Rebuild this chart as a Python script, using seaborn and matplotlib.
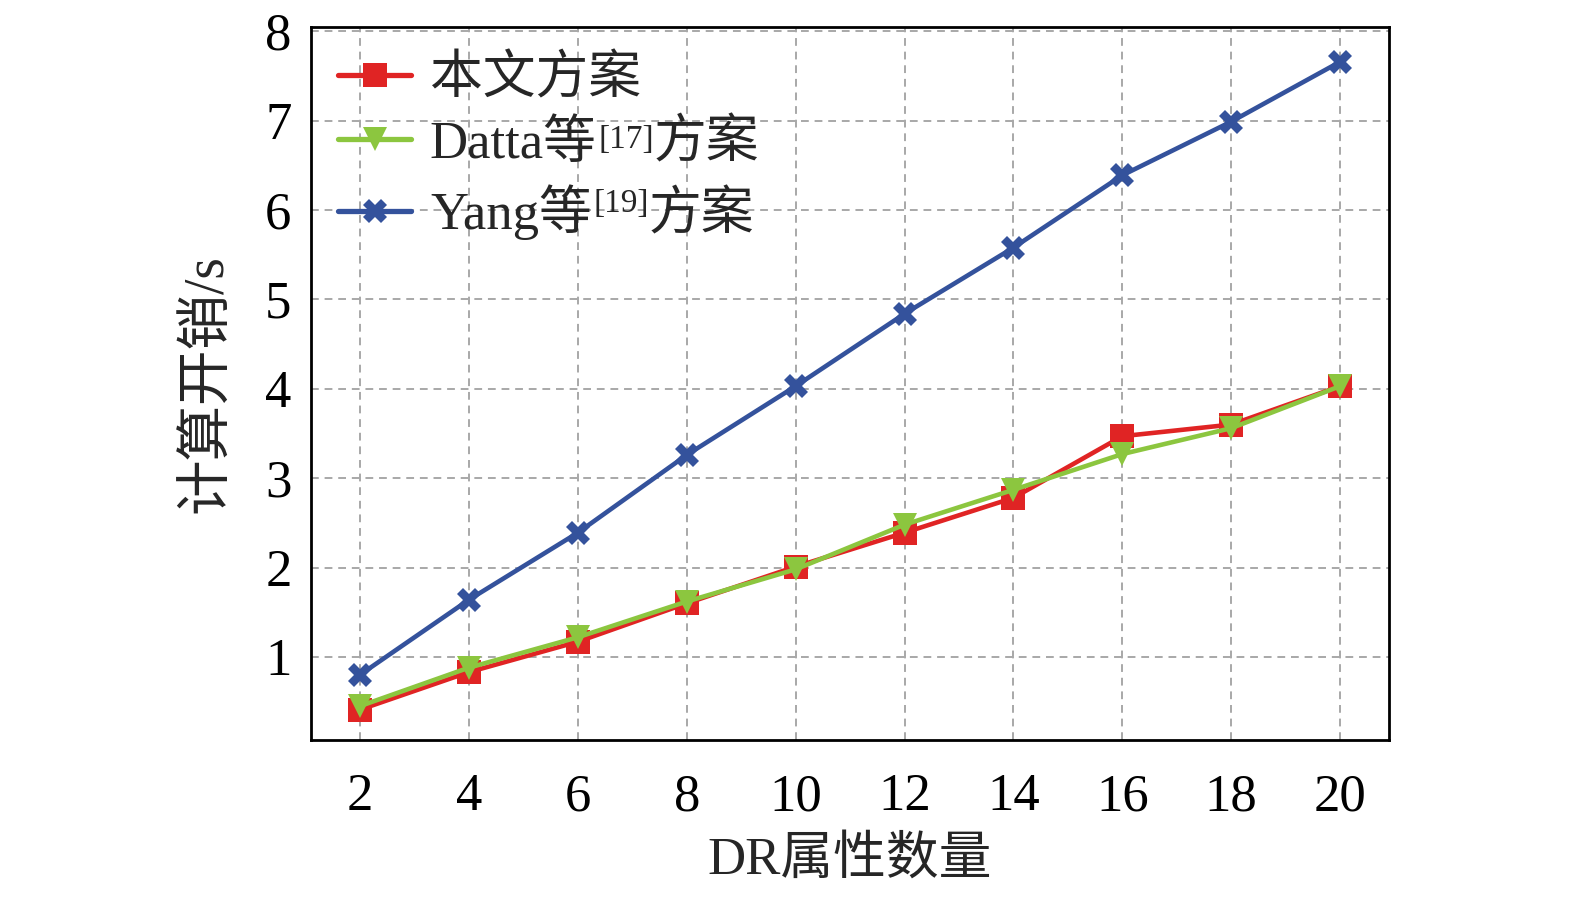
import matplotlib
matplotlib.use("Agg")
import matplotlib.pyplot as plt
import seaborn as sns
import pandas as pd

x_vals = [2, 4, 6, 8, 10, 12, 14, 16, 18, 20]
ours = [0.41, 0.83, 1.17, 1.60, 2.01, 2.39, 2.78, 3.47, 3.60, 4.03]
datta = [0.45, 0.88, 1.22, 1.62, 1.98, 2.48, 2.87, 3.27, 3.56, 4.03]
yang = [0.80, 1.64, 2.39, 3.26, 4.03, 4.84, 5.58, 6.39, 6.99, 7.66]
labels = ["本文方案", "Datta等", "Yang等"]
label_refs = ["", "[17]", "[19]"]
label_tails = ["", "方案", "方案"]
colors = ["#e02424", "#8cc63f", "#34529c"]
markers = ["s", "v", "X"]

sns.set_theme(style="white")
FAM = ["Liberation Serif", "Noto Sans CJK SC"]
plt.rcParams["font.family"] = FAM

df = pd.concat([
    pd.DataFrame({"x": x_vals, "y": vals, "series": lab})
    for vals, lab in zip([ours, datta, yang], labels)
])

fig = plt.figure(figsize=(15.75, 8.97), dpi=100)
ax = fig.add_axes([0.1975, 0.175, 0.6845, 0.795])

sns.lineplot(data=df, x="x", y="y", hue="series", style="series",
             hue_order=labels, style_order=labels,
             palette=colors, markers=markers, dashes=False,
             linewidth=3.3, markersize=17, markeredgewidth=0, ax=ax)

ax.set_xlim(1.1, 20.9)
ax.set_ylim(0.07, 8.05)
ax.set_xticks(x_vals)
ax.set_yticks([1, 2, 3, 4, 5, 6, 7, 8])
ax.grid(True, linestyle=(0, (4, 3)), color="#a8a8a8", linewidth=1.4)
ax.set_axisbelow(True)
for s in ax.spines.values():
    s.set_color("black")
    s.set_linewidth(2)
ax.tick_params(direction="in", length=10, width=2, labelsize=38, colors="black")
ax.tick_params(axis="x", pad=24)
ax.tick_params(axis="y", pad=14)
ax.set_xlabel("DR属性数量", fontsize=38, labelpad=10)
ax.set_ylabel("计算开销/s", fontsize=40, labelpad=22)

handles, labs = ax.get_legend_handles_labels()
leg = ax.legend(handles, labs, loc="upper left", frameon=False, fontsize=38,
                handlelength=1.4, handletextpad=0.35, labelspacing=0.3,
                borderaxespad=0.0, bbox_to_anchor=(0.005, 0.99))
for h in leg.legend_handles:
    h.set_markersize(17)
    h.set_linewidth(3.8)

fig.canvas.draw()
for txt, ref, tail in zip(leg.get_texts(), label_refs, label_tails):
    if not ref:
        continue
    sup = ax.annotate(ref, xy=(1, 1), xycoords=txt, xytext=(1, -3),
                      textcoords="offset points", fontsize=24,
                      ha="left", va="top", family=FAM, zorder=10)
    ax.annotate(tail, xy=(1, 0), xycoords=(sup, txt), xytext=(0, 0),
                textcoords="offset points", fontsize=38,
                ha="left", va="bottom", family=FAM, zorder=11)

fig.savefig("out.png", dpi=100)
